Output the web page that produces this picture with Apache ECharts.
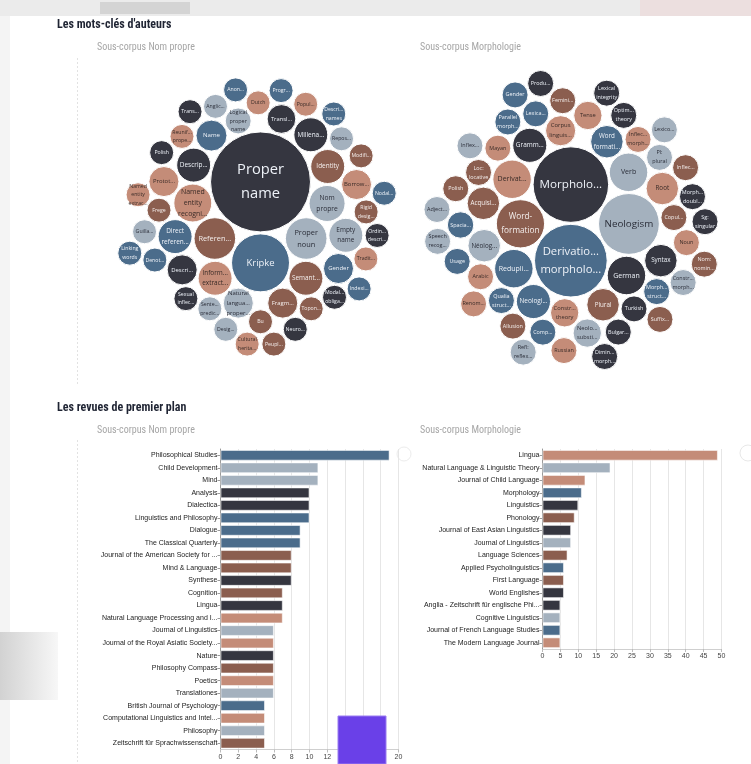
<!DOCTYPE html>
<html><head><meta charset="utf-8">
<script src="https://cdn.jsdelivr.net/npm/echarts@6/dist/echarts.min.js"></script>
<style>html,body{margin:0;padding:0;background:#fff}#c{width:751px;height:764px}</style>
</head><body><div id="c"></div>
<script>
// ---------------- DATA ----------------
const palette = {D:'#353640', S:'#4b6c8b', L:'#a4b1be', B:'#8b5e4f', P:'#c48c78'};
const textOn = {D:'#eef2f8', S:'#eef2f8', L:'#2b2e39', B:'#f4eeec', P:'#3a2b27'};

// Author keywords, sub-corpus "Nom propre"
const npKeywords = ['Proper name','Kripke','Proper noun','Referentiality','Named entity recognition','Nom propre',
 'Information extraction','Semantics','Identity','Description','Empty name','Direct reference','Millenarianism',
 'Name','Descriptivism','Gender','Natural language proper nouns','Fragmentation','Borrowing','Prototype','Translation',
 'Logical proper name',
 'Rigid designator','Frege','Bu','Dutch','Reunification property','Repository','Sentence predicate','Toponymy',
 'Modality obligation','Sexual inflection','Modification','Polish','Anglicism','Tradition','Denotation','Popularity',
 'Guillaume','Ordinary description','Transparency','Named entity extraction','Anonymization','Descriptive names',
 'Designation','Neuroscience','Programming','Cultural heritage','Peuplement','Nodality','Linking words','Indexicals'];
const npKeywordCounts = [52,17.5,9,9,7.5,6.75,
 6,6,6,6,6,6,6,
 5,4.7,4.7,4.7,4.7,4.7,4.7,4.3,
 3.5,
 3,3,3,3,3,3,3,3,
 3,3,3,3,3,3,3,3,
 3,3,3,3,3,3,
 3,3,3,3,3,3,3,3];
const npKeywordGroups = ['D','S','L','B','P','L',
 'P','B','B','D','L','S','D',
 'S','D','S','L','B','P','P','D',
 'L',
 'B','B','B','P','P','L','L','B',
 'D','D','B','D','L','P','S','P',
 'L','D','D','P','S','S',
 'L','D','S','P','B','S','S','S'];

// Author keywords, sub-corpus "Morphologie"
const moKeywords = ['Morphology','Derivational morphology','Neologism','Word-formation','Derivation','Reduplication',
 'Verb','German','Grammaticalization','Neologization','Word formation','Acquisition','Néologisme','Plural','Root',
 'Syntax','Corpus linguistics','Constraint theory','Tense','Neological substitution','Spacialisation',
 'Mayan','Qualia structure','Loc: locative','Inflectional morphology','Arabic','Turkish','Copulative','Noun',
 'Pl: plural','Morphological structure','Lexicalization','Compounding','Inflexion','Renominalization','Suffixation',
 'Parallel morphology','Allusion','Polish','Optimality theory','Usage','Lexical integrity','Bulgarian','Feminization',
 'Morphological doublets','Adjective','Speech recognition','Diminutive morphology','Russian','Gender','Refl: reflexive',
 'Productivity','Inflection','Construction morphology','Lexicography','Nom: nominative','Sg: singular'];
const moKeywordCounts = [27,25,17.5,11,7,7,
 7,7,5.5,5.5,5,5,5,5,5,
 5,4.3,3.8,3.8,3.8,3.3,
 3.2,3.2,3.2,3.2,3.2,3.2,3.2,3.2,
 3.2,3.2,3.2,3.2,3.2,3.2,3.2,
 3.2,3.2,3.2,3.2,3.2,3.2,3.2,3.2,
 3.2,3.2,3.2,3.2,3.2,3.2,3.2,
 3.2,3.2,3.2,3.2,3.2,3.2];
const moKeywordGroups = ['D','S','L','B','P','S',
 'L','D','D','S','S','B','L','B','P',
 'D','P','P','P','L','S',
 'P','S','B','P','P','D','B','P',
 'L','S','S','S','L','P','B',
 'S','B','B','D','S','D','D','B',
 'D','L','L','D','P','S','L',
 'D','B','L','L','B','D'];

// Leading journals, sub-corpus "Nom propre"
const npJournals = ['Philosophical Studies','Child Development','Mind','Analysis','Dialectica','Linguistics and Philosophy',
 'Dialogue','The Classical Quarterly','Journal of the American Society for ...','Mind & Language','Synthese','Cognition',
 'Lingua','Natural Language Processing and I...','Journal of Linguistics','Journal of the Royal Asiatic Society...',
 'Nature','Philosophy Compass','Poetics','Translationes','British Journal of Psychology',
 'Computational Linguistics and Intel...','Philosophy','Zeitschrift für Sprachwissenschaft'];
const npJournalCounts = [19,11,11,10,10,10,9,9,8,8,8,7,7,7,6,6,6,6,6,6,5,5,5,5];
const npJournalGroups = ['S','L','L','D','D','S','S','S','B','B','D','B','D','P','L','P','D','B','P','L','S','P','L','B'];

// Leading journals, sub-corpus "Morphologie"
const moJournals = ['Lingua','Natural Language & Linguistic Theory','Journal of Child Language','Morphology','Linguistics',
 'Phonology','Journal of East Asian Linguistics','Journal of Linguistics','Language Sciences','Applied Psycholinguistics',
 'First Language','World Englishes','Anglia - Zeitschrift für englische Phi...','Cognitive Linguistics',
 'Journal of French Language Studies','The Modern Language Journal'];
const moJournalCounts = [49,19,12,11,10,9,8,8,7,6,6,6,5,5,5,5];
const moJournalGroups = ['P','L','P','S','D','B','D','L','B','S','B','D','D','L','S','P'];

const npAxisTicks = {min:0, max:20, interval:2};
const moAxisTicks = {min:0, max:50, interval:5};

// ---------------- circle packing (front-chain, as in d3.packSiblings) ----------------
function place(b, a, c) {
  let dx = b.x - a.x, dy = b.y - a.y, d2 = dx*dx + dy*dy, x, y, a2, b2;
  if (d2) {
    a2 = a.r + c.r; a2 *= a2; b2 = b.r + c.r; b2 *= b2;
    if (a2 > b2) {
      x = (d2 + b2 - a2) / (2*d2); y = Math.sqrt(Math.max(0, b2/d2 - x*x));
      c.x = b.x - x*dx - y*dy; c.y = b.y - x*dy + y*dx;
    } else {
      x = (d2 + a2 - b2) / (2*d2); y = Math.sqrt(Math.max(0, a2/d2 - x*x));
      c.x = a.x + x*dx - y*dy; c.y = a.y + x*dy + y*dx;
    }
  } else { c.x = a.x + c.r; c.y = a.y; }
}
function intersects(a, b) { const dr = a.r + b.r - 1e-6, dx = b.x - a.x, dy = b.y - a.y; return dr > 0 && dr*dr > dx*dx + dy*dy; }
function score(node) { const a = node._, b = node.next._, ab = a.r + b.r, dx = (a.x*b.r + b.x*a.r)/ab, dy = (a.y*b.r + b.y*a.r)/ab; return dx*dx + dy*dy; }
function PNode(c) { this._ = c; this.next = null; this.previous = null; }
function packSiblings(circles) {
  const n = circles.length; if (!n) return;
  let a, b, c, aa, ca, i, j, k, sj, sk;
  a = circles[0]; a.x = 0; a.y = 0; if (n < 2) return;
  b = circles[1]; a.x = -b.r; b.x = a.r; b.y = 0; if (n < 3) return;
  place(b, a, c = circles[2]);
  a = new PNode(a); b = new PNode(b); c = new PNode(c);
  a.next = c.previous = b; b.next = a.previous = c; c.next = b.previous = a;
  pack: for (i = 3; i < n; ++i) {
    place(a._, b._, c = circles[i]); c = new PNode(c);
    j = b.next; k = a.previous; sj = b._.r; sk = a._.r;
    do {
      if (sj <= sk) {
        if (intersects(j._, c._)) { b = j; a.next = b; b.previous = a; --i; continue pack; }
        sj += j._.r; j = j.next;
      } else {
        if (intersects(k._, c._)) { a = k; a.next = b; b.previous = a; --i; continue pack; }
        sk += k._.r; k = k.previous;
      }
    } while (j !== k.next);
    c.previous = a; c.next = b; a.next = b.previous = b = c;
    aa = score(a);
    while ((c = c.next) !== b) { if ((ca = score(c)) < aa) { a = c; aa = ca; } }
    b = a.next;
  }
}
function buildPack(labels, counts, groups, padUnits) {
  const nodes = labels.map((l, i) => ({i, label:l, group:groups[i], r0:Math.sqrt(counts[i]), r:Math.sqrt(counts[i]) + padUnits}));
  const order = nodes.slice().sort((p, q) => q.r - p.r || p.i - q.i);
  packSiblings(order);
  const a = order[0], b = order[1], c = order[2];
  const rot = -Math.PI/2 - Math.atan2(b.y - a.y, b.x - a.x);
  const cs = Math.cos(rot), sn = Math.sin(rot);
  nodes.forEach(n => { const x = n.x, y = n.y; n.x = x*cs - y*sn; n.y = x*sn + y*cs; });
  if (c.x < a.x) nodes.forEach(n => { n.x = -n.x; });
  let x0 = Infinity, x1 = -Infinity, y0 = Infinity, y1 = -Infinity;
  nodes.forEach(n => { x0 = Math.min(x0, n.x - n.r); x1 = Math.max(x1, n.x + n.r); y0 = Math.min(y0, n.y - n.r); y1 = Math.max(y1, n.y + n.r); });
  const cx = (x0 + x1)/2, cy = (y0 + y1)/2;
  nodes.forEach(n => { n.x -= cx; n.y -= cy; });
  return nodes;
}
function splitLabel(s) {
  const w = [];
  s.split(/\s+/).forEach(t => { t.replace(/-/g, '-\u0001').split('\u0001').forEach(p => { if (p) w.push(p); }); });
  if (w.length > 3) return [w[0], w[1], w.slice(2).join(' ')];
  return w;
}

// ---------------- layout constants ----------------
const kL = 12 / Math.sqrt(3);     // px per sqrt-unit, left packing
const kR = 13 / Math.sqrt(3.2);   // right packing
const H = 165;                    // half size of bubble grids (px)
const leftNodes = buildPack(npKeywords, npKeywordCounts, npKeywordGroups, 1.0 / kL);
const rightNodes = buildPack(moKeywords, moKeywordCounts, moKeywordGroups, 1.0 / kR);

function bubbleRender(nodes) {
  return function (params, api) {
    const n = nodes[params.dataIndex];
    const p = api.coord([api.value(0), api.value(1)]);
    const r = api.size([api.value(2), 0])[0];
    const fs = 0.25 * r + 2.2;
    return {type:'group', children:[
      {type:'circle', shape:{cx:p[0], cy:p[1], r:r}, style:{fill:palette[n.group], stroke:'#ffffff', lineWidth:1}},
      {type:'text', x:p[0], y:p[1], style:{text:splitLabel(n.label).join('\n'), fontSize:fs, fontFamily:'"Open Sans", "Noto Sans", sans-serif',
        fill:textOn[n.group], align:'center', verticalAlign:'middle', width:1.72*r, overflow:'truncate', ellipsis:'...', lineHeight:fs*1.65}}
    ]};
  };
}

const headFont = '"Roboto Condensed", "Liberation Sans Narrow", "DejaVu Sans Condensed", Roboto, sans-serif';
const labelFont = '"Liberation Sans", Arial, sans-serif';

function barAxes(gridIndex, cats, ticks) {
  return {
    x: {type:'value', gridIndex, min:ticks.min, max:ticks.max, interval:ticks.interval,
      axisLine:{show:true, lineStyle:{color:'#cfcfcf'}}, axisTick:{show:true, length:3, lineStyle:{color:'#bbb'}},
      axisLabel:{fontSize:7, color:'#444', margin:4, fontFamily:labelFont},
      splitLine:{show:true, lineStyle:{color:'#e6e6e6', width:1}}},
    y: {type:'category', gridIndex, data:cats, inverse:true,
      axisLine:{show:true, lineStyle:{color:'#9a9a9a'}}, axisTick:{show:true, length:3, alignWithLabel:true, lineStyle:{color:'#9a9a9a'}},
      axisLabel:{fontSize:7, color:'#222', margin:3, fontFamily:labelFont}}
  };
}
const ax1 = barAxes(2, npJournals, npAxisTicks);
const ax2 = barAxes(3, moJournals, moAxisTicks);

const hidden = (gi, n) => ({type:'value', gridIndex:gi, min:-H/n, max:H/n, show:false, splitLine:{show:false}});

const option = {
  animation:false,
  backgroundColor:'#ffffff',
  grid:[
    {left:257-H, top:217-H, width:2*H, height:2*H},
    {left:571-H, top:220-H, width:2*H, height:2*H},
    {left:220.5, top:449, width:178, height:300.5},
    {left:542.5, top:449, width:179, height:200}
  ],
  xAxis:[hidden(0, kL), hidden(1, kR), ax1.x, ax2.x],
  yAxis:[hidden(0, kL), hidden(1, kR), ax1.y, ax2.y],
  series:[
    {type:'custom', xAxisIndex:0, yAxisIndex:0, renderItem:bubbleRender(leftNodes),
      data:leftNodes.map(n => [n.x, n.y, n.r0]), encode:{x:0, y:1}, silent:true},
    {type:'custom', xAxisIndex:1, yAxisIndex:1, renderItem:bubbleRender(rightNodes),
      data:rightNodes.map(n => [n.x, n.y, n.r0]), encode:{x:0, y:1}, silent:true},
    {type:'bar', xAxisIndex:2, yAxisIndex:2, barCategoryGap:'14%',
      data:npJournalCounts.map((v, i) => ({value:v, itemStyle:{color:palette[npJournalGroups[i]]}})),
      itemStyle:{borderColor:'rgba(255,255,255,0.55)', borderWidth:1}},
    {type:'bar', xAxisIndex:3, yAxisIndex:3, barCategoryGap:'14%',
      data:moJournalCounts.map((v, i) => ({value:v, itemStyle:{color:palette[moJournalGroups[i]]}})),
      itemStyle:{borderColor:'rgba(255,255,255,0.55)', borderWidth:1}}
  ],
  graphic:[
    {type:'rect', z:-10, shape:{x:0, y:0, width:751, height:16}, style:{fill:'#ebebeb'}},
    {type:'rect', z:-9, shape:{x:100, y:2, width:90, height:12}, style:{fill:'#d4d4d4'}},
    {type:'rect', z:-9, shape:{x:640, y:0, width:111, height:16}, style:{fill:'#ecdfdf'}},
    {type:'rect', z:-10, shape:{x:0, y:16, width:10, height:748}, style:{fill:'#f4f4f4'}},
    {type:'rect', z:-10, shape:{x:0, y:632, width:58, height:68}, style:{fill:new echarts.graphic.LinearGradient(0,0,1,0,[{offset:0,color:'#d2d2d2'},{offset:1,color:'#f7f7f7'}])}},
    {type:'line', shape:{x1:77.5, y1:58, x2:77.5, y2:385}, style:{stroke:'#e2e2e2', lineDash:[2,2]}},
    {type:'line', shape:{x1:77.5, y1:440, x2:77.5, y2:764}, style:{stroke:'#e2e2e2', lineDash:[2,2]}},
    {type:'text', x:57, y:25, style:{text:"Les mots-clés d'auteurs", font:'bold 12px ' + headFont, fill:'#1f2433', verticalAlign:'middle'}},
    {type:'text', x:97, y:47, style:{text:'Sous-corpus Nom propre', font:'10px ' + headFont, fill:'#a6a6a6', verticalAlign:'middle'}},
    {type:'text', x:420, y:47, style:{text:'Sous-corpus Morphologie', font:'10px ' + headFont, fill:'#a6a6a6', verticalAlign:'middle'}},
    {type:'text', x:57, y:408, style:{text:'Les revues de premier plan', font:'bold 12px ' + headFont, fill:'#1f2433', verticalAlign:'middle'}},
    {type:'text', x:97, y:430, style:{text:'Sous-corpus Nom propre', font:'10px ' + headFont, fill:'#a6a6a6', verticalAlign:'middle'}},
    {type:'text', x:420, y:430, style:{text:'Sous-corpus Morphologie', font:'10px ' + headFont, fill:'#a6a6a6', verticalAlign:'middle'}},
    {type:'circle', shape:{cx:404, cy:454, r:7}, style:{fill:'none', stroke:'#ececec'}},
    {type:'circle', shape:{cx:748, cy:453, r:8}, style:{fill:'#fff', stroke:'#e8e8e8'}},
    {type:'rect', z:100, shape:{x:338, y:716, width:48, height:48}, style:{fill:'#6a40e8', stroke:'#9a7df0', lineWidth:1}}
  ]
};
const chart = echarts.init(document.getElementById('c'));
chart.setOption(option);
</script></body></html>
